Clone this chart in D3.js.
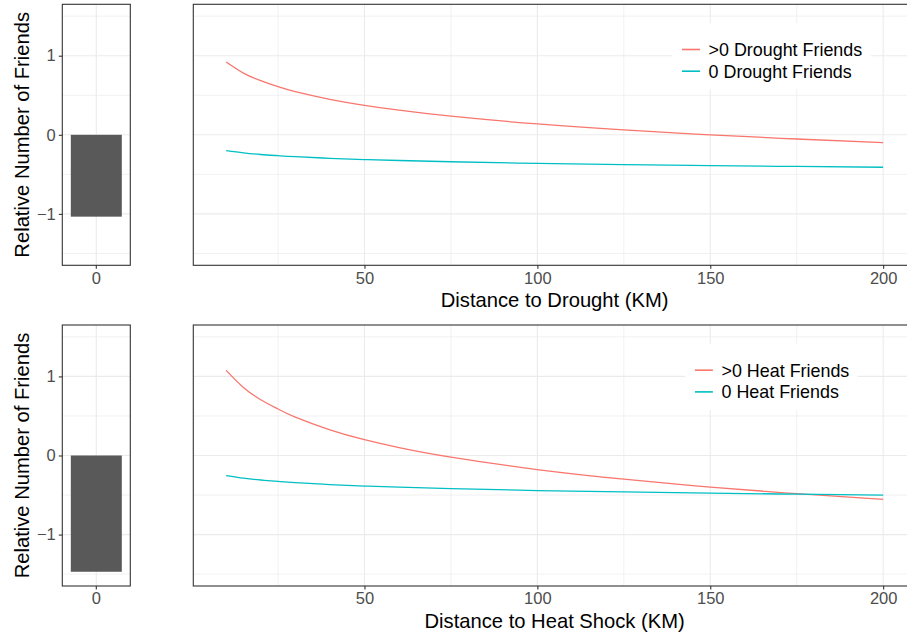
<!DOCTYPE html>
<html>
<head>
<meta charset="utf-8">
<script src="https://cdn.jsdelivr.net/npm/d3@7"></script>
<style>
  html, body { margin: 0; padding: 0; background: #ffffff; }
  svg { display: block; font-family: "Liberation Sans", Arial, Helvetica, sans-serif; }
</style>
</head>
<body>
<svg id="chart" width="907" height="634"></svg>
<script>
// ---------------- DATA ----------------
const distanceKm = [10, 15, 20, 25, 30, 40, 50, 60, 75, 100, 125, 150, 175, 200];

const droughtFriendsPos = [0.92, 0.78, 0.684, 0.609, 0.546, 0.449, 0.373, 0.311, 0.235, 0.137, 0.061, -0.001, -0.053, -0.099];
const droughtFriendsZero = [-0.200, -0.228, -0.249, -0.264, -0.277, -0.297, -0.313, -0.325, -0.341, -0.361, -0.377, -0.390, -0.400, -0.410];

const heatFriendsPos = [1.077, 0.86, 0.705, 0.588, 0.485, 0.325, 0.200, 0.100, -0.021, -0.178, -0.300, -0.399, -0.483, -0.556];
const heatFriendsZero = [-0.253, -0.286, -0.310, -0.328, -0.344, -0.367, -0.386, -0.401, -0.419, -0.443, -0.461, -0.476, -0.489, -0.500];

const barCategories = ["0"];
const droughtBar = [-1.035];
const heatBar = [-1.47];

const xTicks = [50, 100, 150, 200];
const xMinorTicks = [25, 75, 125, 175];
const yTicks = [-1, 0, 1];
const yMinorTicks = [-1.5, -0.5, 0.5, 1.5];

const seriesColors = ["#F8766D", "#00BFC4"];
const yTitle = "Relative Number of Friends";

const rows = [
  { bar: droughtBar, pos: droughtFriendsPos, zero: droughtFriendsZero,
    labels: [">0 Drought Friends", "0 Drought Friends"], xTitle: "Distance to Drought (KM)" },
  { bar: heatBar, pos: heatFriendsPos, zero: heatFriendsZero,
    labels: [">0 Heat Friends", "0 Heat Friends"], xTitle: "Distance to Heat Shock (KM)" }
];

// ---------------- LAYOUT ----------------
const svg = d3.select("#chart");
const leftPanel = { x0: 62.3, x1: 130.3 };
const rightPanel = { x0: 193.3, x1: 916 };
const rowTops = [4.3, 325];
const panelH = 261;

const gridColor = "#EBEBEB";
const borderColor = "#333333";
const tickTextColor = "#4D4D4D";
const tickFont = 16.5;
const titleFont = 20.2;
const legendFont = 17.9;

const defs = svg.append("defs");

rows.forEach((row, i) => {
  const top = rowTops[i];
  const bottom = top + panelH;
  const y = d3.scaleLinear().domain([-1.65, 1.65]).range([bottom, top]);

  // ---------- left bar panel ----------
  const xb = d3.scaleBand().domain(barCategories)
    .range([leftPanel.x0, leftPanel.x1]).paddingInner(0.25).paddingOuter(0.125);
  const gL = svg.append("g");
  gL.append("rect").attr("x", leftPanel.x0).attr("y", top)
    .attr("width", leftPanel.x1 - leftPanel.x0).attr("height", panelH).attr("fill", "#fff");
  gL.selectAll("line.ymin").data(yMinorTicks).join("line")
    .attr("x1", leftPanel.x0).attr("x2", leftPanel.x1)
    .attr("y1", d => y(d)).attr("y2", d => y(d))
    .attr("stroke", gridColor).attr("stroke-width", 0.7);
  gL.selectAll("line.ymaj").data(yTicks).join("line")
    .attr("x1", leftPanel.x0).attr("x2", leftPanel.x1)
    .attr("y1", d => y(d)).attr("y2", d => y(d))
    .attr("stroke", gridColor).attr("stroke-width", 1.1);
  gL.selectAll("line.xmaj").data(barCategories).join("line")
    .attr("x1", d => xb(d) + xb.bandwidth() / 2).attr("x2", d => xb(d) + xb.bandwidth() / 2)
    .attr("y1", top).attr("y2", bottom)
    .attr("stroke", gridColor).attr("stroke-width", 1.1);
  gL.selectAll("rect.bar").data(barCategories).join("rect")
    .attr("x", d => xb(d))
    .attr("width", xb.bandwidth())
    .attr("y", (d, k) => y(Math.max(0, row.bar[k])))
    .attr("height", (d, k) => Math.abs(y(row.bar[k]) - y(0)))
    .attr("fill", "#595959");
  gL.append("rect").attr("x", leftPanel.x0).attr("y", top)
    .attr("width", leftPanel.x1 - leftPanel.x0).attr("height", panelH)
    .attr("fill", "none").attr("stroke", borderColor).attr("stroke-width", 1.1);

  // y axis
  const yAx = svg.append("g").attr("transform", `translate(${leftPanel.x0},0)`)
    .call(d3.axisLeft(y).tickValues(yTicks).tickSize(3.5).tickPadding(3)
      .tickFormat(d => d < 0 ? "\u2212" + Math.abs(d) : String(d)));
  yAx.select(".domain").remove();
  yAx.selectAll(".tick line").attr("stroke", borderColor).attr("stroke-width", 1.1);
  yAx.selectAll(".tick text").attr("fill", tickTextColor).style("font-size", tickFont + "px")
    .style("font-family", "Liberation Sans, Arial, sans-serif");

  // x axis (bar)
  const xbAx = svg.append("g").attr("transform", `translate(0,${bottom})`)
    .call(d3.axisBottom(xb).tickSize(3.5).tickPadding(3));
  xbAx.select(".domain").remove();
  xbAx.selectAll(".tick line").attr("stroke", borderColor).attr("stroke-width", 1.1);
  xbAx.selectAll(".tick text").attr("fill", tickTextColor).style("font-size", tickFont + "px")
    .style("font-family", "Liberation Sans, Arial, sans-serif");

  // y title
  svg.append("text")
    .attr("transform", `translate(${28.5},${(top + bottom) / 2}) rotate(-90)`)
    .attr("text-anchor", "middle")
    .style("font-size", titleFont + "px").attr("fill", "#000")
    .text(yTitle);

  // ---------- right line panel ----------
  const x = d3.scaleLinear().domain([0.5, 209.5]).range([rightPanel.x0, rightPanel.x1]);
  const clipId = "clip" + i;
  defs.append("clipPath").attr("id", clipId).append("rect")
    .attr("x", rightPanel.x0).attr("y", top)
    .attr("width", rightPanel.x1 - rightPanel.x0).attr("height", panelH);
  const gR = svg.append("g");
  const gC = gR.append("g").attr("clip-path", `url(#${clipId})`);
  gC.append("rect").attr("x", rightPanel.x0).attr("y", top)
    .attr("width", rightPanel.x1 - rightPanel.x0).attr("height", panelH).attr("fill", "#fff");
  gC.selectAll("line.ymin").data(yMinorTicks).join("line")
    .attr("x1", rightPanel.x0).attr("x2", rightPanel.x1)
    .attr("y1", d => y(d)).attr("y2", d => y(d))
    .attr("stroke", gridColor).attr("stroke-width", 0.7);
  gC.selectAll("line.xmin").data(xMinorTicks).join("line")
    .attr("x1", d => x(d)).attr("x2", d => x(d))
    .attr("y1", top).attr("y2", bottom)
    .attr("stroke", gridColor).attr("stroke-width", 0.7);
  gC.selectAll("line.ymaj").data(yTicks).join("line")
    .attr("x1", rightPanel.x0).attr("x2", rightPanel.x1)
    .attr("y1", d => y(d)).attr("y2", d => y(d))
    .attr("stroke", gridColor).attr("stroke-width", 1.1);
  gC.selectAll("line.xmaj").data(xTicks).join("line")
    .attr("x1", d => x(d)).attr("x2", d => x(d))
    .attr("y1", top).attr("y2", bottom)
    .attr("stroke", gridColor).attr("stroke-width", 1.1);

  const line = d3.line().x(d => x(d[0])).y(d => y(d[1])).curve(d3.curveNatural);
  [row.pos, row.zero].forEach((vals, k) => {
    gC.append("path")
      .datum(distanceKm.map((dk, j) => [dk, vals[j]]))
      .attr("fill", "none").attr("stroke", seriesColors[k]).attr("stroke-width", 1.3)
      .attr("d", line);
  });

  // legend
  const lg = gR.append("g");
  const texts = [];
  row.labels.forEach((lab) => {
    texts.push(lg.append("text").style("font-size", legendFont + "px").attr("fill", "#000").text(lab));
  });
  const maxW = d3.max(texts, t => t.node().getComputedTextLength());
  const padL = 9.5, keyW = 18, gap = 8.6, padR = 8.5;
  const boxW = padL + keyW + gap + maxW + padR;
  const cx = 771.6;
  const bx = cx - boxW / 2, by = top + 19, boxH = 66;
  lg.insert("rect", ":first-child").attr("x", bx).attr("y", by).attr("width", boxW).attr("height", boxH)
    .attr("fill", "#fff");
  const rowY = [top + 45.2, top + 66.9];
  row.labels.forEach((lab, k) => {
    lg.append("line").attr("x1", bx + padL).attr("x2", bx + padL + keyW)
      .attr("y1", rowY[k]).attr("y2", rowY[k])
      .attr("stroke", seriesColors[k]).attr("stroke-width", 1.6);
    texts[k].attr("x", bx + padL + keyW + gap).attr("y", rowY[k]).attr("dy", "0.36em");
  });

  gR.append("rect").attr("x", rightPanel.x0).attr("y", top)
    .attr("width", rightPanel.x1 - rightPanel.x0).attr("height", panelH)
    .attr("fill", "none").attr("stroke", borderColor).attr("stroke-width", 1.1);

  const xAx = svg.append("g").attr("transform", `translate(0,${bottom})`)
    .call(d3.axisBottom(x).tickValues(xTicks).tickSize(3.5).tickPadding(3).tickFormat(d3.format("d")));
  xAx.select(".domain").remove();
  xAx.selectAll(".tick line").attr("stroke", borderColor).attr("stroke-width", 1.1);
  xAx.selectAll(".tick text").attr("fill", tickTextColor).style("font-size", tickFont + "px")
    .style("font-family", "Liberation Sans, Arial, sans-serif");

  svg.append("text")
    .attr("x", (rightPanel.x0 + rightPanel.x1) / 2)
    .attr("y", bottom + 41.5)
    .attr("text-anchor", "middle")
    .style("font-size", titleFont + "px").attr("fill", "#000")
    .text(row.xTitle);
});
</script>
</body>
</html>
